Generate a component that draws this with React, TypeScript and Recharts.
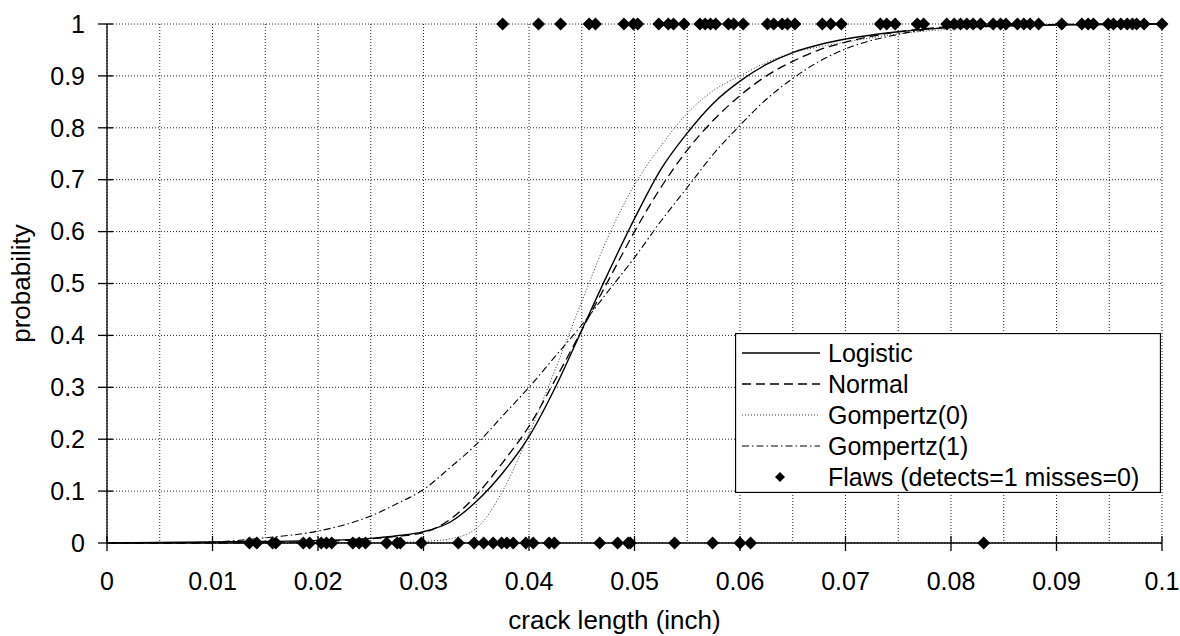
import React from "react";
import {
  ComposedChart,
  Line,
  Scatter,
  XAxis,
  YAxis,
  CartesianGrid,
  Legend,
} from "recharts";

// crack length grid the fitted curves are read at
const crackLength = [
  0, 0.005, 0.01, 0.015, 0.02, 0.025, 0.0275, 0.03, 0.0325, 0.035, 0.0375,
  0.04, 0.0425, 0.045, 0.0475, 0.05, 0.0525, 0.055, 0.0575, 0.06, 0.0625,
  0.065, 0.0675, 0.07, 0.075, 0.08, 0.085, 0.09, 0.095, 0.1,
];
const logistic = [
  0, 0.001, 0.002, 0.003, 0.005, 0.009, 0.014, 0.022, 0.04, 0.08, 0.135,
  0.205, 0.3, 0.41, 0.52, 0.625, 0.72, 0.79, 0.848, 0.89, 0.922, 0.945,
  0.96, 0.971, 0.985, 0.993, 0.996, 0.998, 0.999, 1,
];
const normal = [
  0, 0, 0, 0.001, 0.003, 0.008, 0.013, 0.02, 0.045, 0.092, 0.155, 0.225,
  0.315, 0.41, 0.505, 0.6, 0.685, 0.757, 0.815, 0.862, 0.9, 0.928, 0.95,
  0.965, 0.985, 0.995, 0.998, 0.999, 1, 1,
];
const gompertz0 = [
  0, 0, 0, 0, 0, 0, 0.001, 0.003, 0.008, 0.028, 0.1, 0.21, 0.335, 0.465,
  0.59, 0.69, 0.765, 0.828, 0.872, 0.9, 0.926, 0.945, 0.956, 0.965, 0.981,
  0.99, 0.995, 0.998, 0.999, 1,
];
const gompertz1 = [
  0, 0, 0.002, 0.01, 0.023, 0.052, 0.076, 0.103, 0.145, 0.19, 0.245, 0.3,
  0.36, 0.42, 0.485, 0.55, 0.62, 0.685, 0.75, 0.805, 0.855, 0.895, 0.928,
  0.952, 0.98, 0.994, 0.998, 0.999, 1, 1,
];

// flaws: misses plotted at 0, detects at 1
const missX = [
  0.0135, 0.0142, 0.0157, 0.016, 0.0186, 0.0192, 0.0203, 0.0208, 0.0213,
  0.0233, 0.0239, 0.0245, 0.0265, 0.0275, 0.0278, 0.0298, 0.0333, 0.0348,
  0.0357, 0.0366, 0.0374, 0.0379, 0.0385, 0.0397, 0.0404, 0.0419, 0.0424,
  0.0467, 0.0484, 0.0494, 0.0496, 0.0538, 0.0574, 0.06, 0.061, 0.0831,
];
const hitX = [
  0.0375, 0.0409, 0.043, 0.0457, 0.0463, 0.049, 0.0499, 0.0503, 0.0523,
  0.0532, 0.0537, 0.0547, 0.0562, 0.0567, 0.0572, 0.0577, 0.0589, 0.0594,
  0.0603, 0.0626, 0.0632, 0.064, 0.0645, 0.0652, 0.0678, 0.0686, 0.0696,
  0.0733, 0.0739, 0.0747, 0.0768, 0.0774, 0.0796, 0.0803, 0.0809, 0.0815,
  0.0821, 0.0828, 0.084, 0.0847, 0.0852, 0.0863, 0.0869, 0.0875, 0.0883,
  0.0905, 0.0924, 0.093, 0.0935, 0.0949, 0.0954, 0.0961, 0.0967, 0.0972,
  0.0976, 0.0983, 0.1,
];

const xTicks = [0, 0.01, 0.02, 0.03, 0.04, 0.05, 0.06, 0.07, 0.08, 0.09, 0.1];
const xGrid = [
  0, 0.005, 0.01, 0.015, 0.02, 0.025, 0.03, 0.035, 0.04, 0.045, 0.05, 0.055,
  0.06, 0.065, 0.07, 0.075, 0.08, 0.085, 0.09, 0.095, 0.1,
];
const yTicks = [0, 0.1, 0.2, 0.3, 0.4, 0.5, 0.6, 0.7, 0.8, 0.9, 1];

const curveData = crackLength.map((x, i) => ({
  x,
  logistic: logistic[i],
  normal: normal[i],
  gompertz0: gompertz0[i],
  gompertz1: gompertz1[i],
}));
const flawData = [
  ...missX.map((x) => ({ x, y: 0 })),
  ...hitX.map((x) => ({ x, y: 1 })),
];

const FONT = '"Liberation Sans", Arial, sans-serif';

const series = [
  { key: "logistic", name: "Logistic", stroke: "#000", width: 1.4, dash: undefined },
  { key: "normal", name: "Normal", stroke: "#000", width: 1.3, dash: "9 5" },
  { key: "gompertz0", name: "Gompertz(0)", stroke: "#333", width: 1, dash: "1 2" },
  { key: "gompertz1", name: "Gompertz(1)", stroke: "#000", width: 1.1, dash: "7 3 1.5 3" },
];

const XTick = ({ x, y, payload }: any) => (
  <g>
    <line x1={x} x2={x} y1={y - 7} y2={y + 8} stroke="#000" strokeWidth={1.3} />
    <text x={x} y={y + 38} dy="0.35em" textAnchor="middle" fontSize={25} fill="#000" fontFamily={FONT}>
      {String(payload.value)}
    </text>
  </g>
);

const YTick = ({ x, y, payload }: any) => (
  <g>
    <line x1={x - 9} x2={x + 6} y1={y} y2={y} stroke="#000" strokeWidth={1.3} />
    <text x={x - 22} y={y} dy="0.35em" textAnchor="end" fontSize={25} fill="#000" fontFamily={FONT}>
      {String(payload.value)}
    </text>
  </g>
);

const Diamond = ({ cx, cy }: any) => {
  if (cx == null || cy == null) return null;
  const r = 6.5;
  return (
    <polygon
      points={`${cx},${cy - r} ${cx + r},${cy} ${cx},${cy + r} ${cx - r},${cy}`}
      fill="#000"
    />
  );
};

const LegendBox = () => {
  const rows = [...series.map((s) => s.name), "Flaws (detects=1 misses=0)"];
  return (
    <svg width={426} height={160} style={{ display: "block" }}>
      <rect x={0.5} y={0.5} width={425} height={159} fill="#fff" stroke="#000" strokeWidth={1.3} />
      {rows.map((name, i) => {
        const cy = 20 + i * 31;
        const s = series[i];
        return (
          <g key={name}>
            {s ? (
              <line x1={7} x2={85} y1={cy} y2={cy} stroke={s.stroke} strokeWidth={s.width} strokeDasharray={s.dash} />
            ) : (
              <polygon points={`45,${cy - 5} 50,${cy} 45,${cy + 5} 40,${cy}`} fill="#000" />
            )}
            <text x={93} y={cy} dy="0.35em" fontSize={25} fill="#000" fontFamily={FONT}>
              {name}
            </text>
          </g>
        );
      })}
    </svg>
  );
};

export default function App() {
  return (
    <div style={{ position: "absolute", left: 0, top: 0, width: 1180, height: 636, fontFamily: FONT }}>
      <ComposedChart
        width={1180}
        height={636}
        data={curveData}
        margin={{ top: 24, right: 18, left: 0, bottom: 0 }}
      >
        <CartesianGrid
          stroke="#222"
          strokeDasharray="1 2"
          verticalValues={xGrid}
          horizontalValues={yTicks}
        />
        <XAxis
          type="number"
          dataKey="x"
          domain={[0, 0.1]}
          ticks={xTicks}
          interval={0}
          height={93}
          tickSize={0}
          tickMargin={0}
          tick={<XTick />}
          axisLine={{ stroke: "#000", strokeWidth: 1.3 }}
          label={(p: any) => {
            const vb = p.viewBox || { x: 107, y: 543, width: 1055 };
            return (
              <text x={vb.x + vb.width / 2 - 20} y={vb.y + 86} textAnchor="middle" fontSize={26} fill="#000" fontFamily={FONT}>
                crack length (inch)
              </text>
            );
          }}
        />
        <YAxis
          type="number"
          domain={[0, 1]}
          ticks={yTicks}
          interval={0}
          width={107}
          tickSize={0}
          tickMargin={0}
          tick={<YTick />}
          axisLine={{ stroke: "#000", strokeWidth: 1.3 }}
          label={(p: any) => {
            const vb = p.viewBox || { x: 0, y: 24, height: 519 };
            const lx = vb.x + 30;
            const ly = vb.y + vb.height / 2;
            return (
              <text x={lx} y={ly} transform={`rotate(-90 ${lx} ${ly})`} textAnchor="middle" fontSize={26} fill="#000" fontFamily={FONT}>
                probability
              </text>
            );
          }}
        />
        {series.map((s) => (
          <Line
            key={s.key}
            type="monotone"
            dataKey={s.key}
            name={s.name}
            stroke={s.stroke}
            strokeWidth={s.width}
            strokeDasharray={s.dash}
            dot={false}
            activeDot={false}
            isAnimationActive={false}
          />
        ))}
        <Scatter
          data={flawData}
          dataKey="y"
          name="Flaws (detects=1 misses=0)"
          shape={<Diamond />}
          isAnimationActive={false}
        />
        <Legend
          layout="vertical"
          align="center"
          verticalAlign="middle"
          wrapperStyle={{ left: 735, top: 333, width: 426, height: 160 }}
          content={() => <LegendBox />}
        />
      </ComposedChart>
    </div>
  );
}
